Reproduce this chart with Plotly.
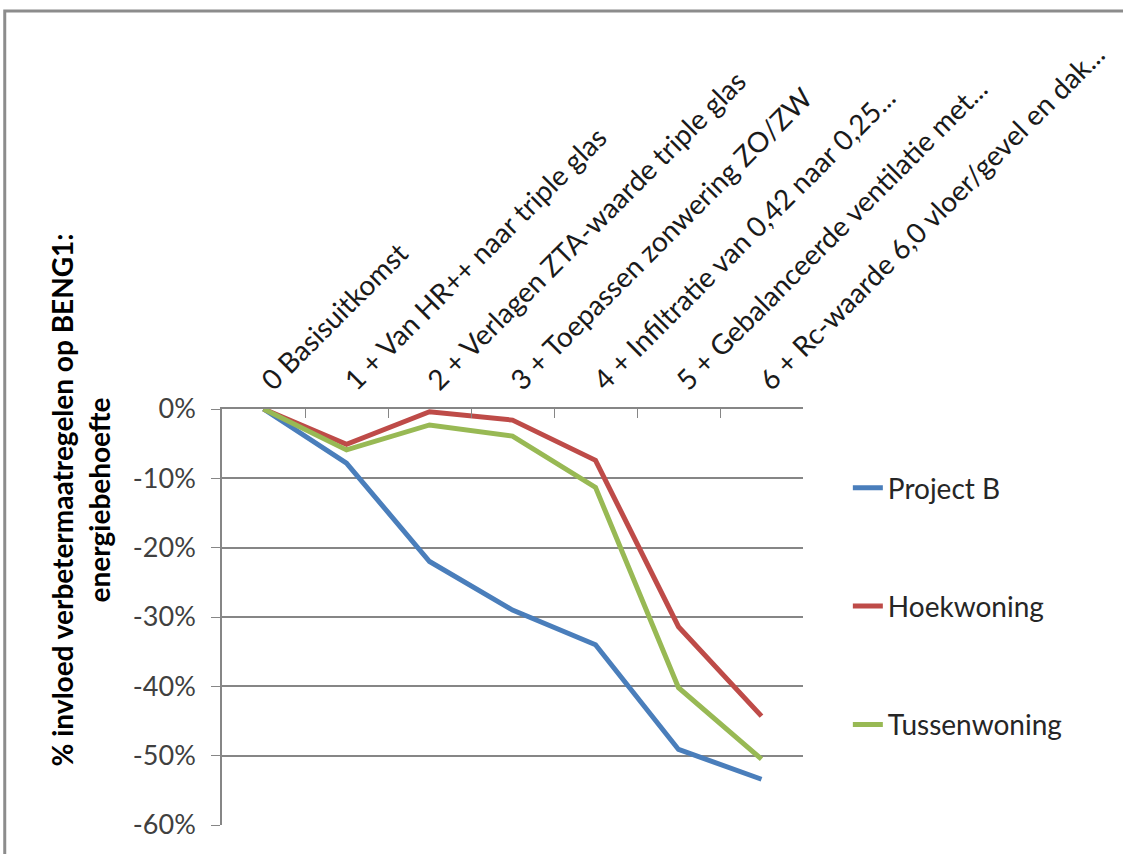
import plotly.graph_objects as go

# Maatregelen (categorieën op de x-as)
maatregelen = [
    "0 Basisuitkomst",
    "1 + Van HR++ naar triple glas",
    "2 + Verlagen ZTA-waarde triple glas",
    "3 + Toepassen zonwering ZO/ZW",
    "4 + Infiltratie van 0,42 naar 0,25...",
    "5 + Gebalanceerde ventilatie met...",
    "6 + Rc-waarde 6,0 vloer/gevel en dak...",
]

# Invloed op BENG1 (fractie t.o.v. basisuitkomst)
project_b = [0.0, -0.078, -0.220, -0.290, -0.340, -0.491, -0.534]
hoekwoning = [0.0, -0.051, -0.004, -0.016, -0.074, -0.314, -0.443]
tussenwoning = [0.0, -0.059, -0.023, -0.039, -0.113, -0.402, -0.505]

series_namen = ["Project B", "Hoekwoning", "Tussenwoning"]
series_kleuren = ["#4A7EBB", "#BE4B48", "#98B954"]

y_tickwaarden = [0.0, -0.1, -0.2, -0.3, -0.4, -0.5, -0.6]
y_ticklabels = ["0%", "-10%", "-20%", "-30%", "-40%", "-50%", "-60%"]

FONT = "Lato, 'Open Sans', sans-serif"

# plotgebied in pixels
W, H = 1123, 854
X0, X1 = 222, 805
Y0, Y1 = 409, 825


def px_x(x):
    return (x - X0) / (X1 - X0)


def px_y(y):
    return (Y1 - y) / (Y1 - Y0)


fig = go.Figure()
for naam, waarden, kleur in zip(series_namen, [project_b, hoekwoning, tussenwoning], series_kleuren):
    fig.add_trace(go.Scatter(
        x=maatregelen, y=waarden, name=naam, mode="lines",
        line=dict(color=kleur, width=5),
        legendgroup=naam,
    ))

fig.update_layout(
    width=W, height=H,
    margin=dict(l=X0, r=W - X1, t=Y0, b=H - Y1, pad=0),
    paper_bgcolor="white", plot_bgcolor="white",
    font=dict(family=FONT, color="#333333"),
    showlegend=True,
    legend=dict(
        x=px_x(850), y=px_y(463), xanchor="left", yanchor="top",
        font=dict(size=28, color="#262626", family=FONT),
        tracegroupgap=79, traceorder="grouped",
        bgcolor="rgba(0,0,0,0)",
    ),
    xaxis=dict(
        type="category", side="top", tickangle=-45,
        tickson="boundaries", ticks="inside", ticklen=9, tickcolor="#868686",
        showline=True, linecolor="#868686", linewidth=1.5,
        showgrid=False, zeroline=False,
        tickfont=dict(size=28, color="#1a1a1a", family=FONT),
        range=[-0.5, 6.5], fixedrange=True,
    ),
    yaxis=dict(
        range=[-0.6, 0.0],
        tickvals=y_tickwaarden, ticktext=y_ticklabels,
        ticks="outside", ticklen=9, tickcolor="#868686",
        ticklabelstandoff=10,
        showline=True, linecolor="#868686", linewidth=1.5,
        showgrid=True, gridcolor="#868686", gridwidth=1.5,
        zeroline=False,
        tickfont=dict(size=27, color="#404040", family=FONT),
        fixedrange=True,
    ),
    shapes=[
        dict(type="path", xref="paper", yref="paper",
             path=f"M {px_x(4)} {px_y(900)} L {px_x(4)} {px_y(11)} L {px_x(1200)} {px_y(11)}",
             line=dict(color="#8c8c8c", width=3)),
    ],
    annotations=[
        dict(
            text="<b>% invloed verbetermaatregelen op BENG1:<br>energiebehoefte</b>",
            xref="paper", yref="paper", x=px_x(80), y=px_y(500),
            xanchor="center", yanchor="middle", textangle=-90,
            showarrow=False, align="center",
            font=dict(size=28, color="#000000", family=FONT),
        ),
    ],
)

fig.write_html("out.html")
